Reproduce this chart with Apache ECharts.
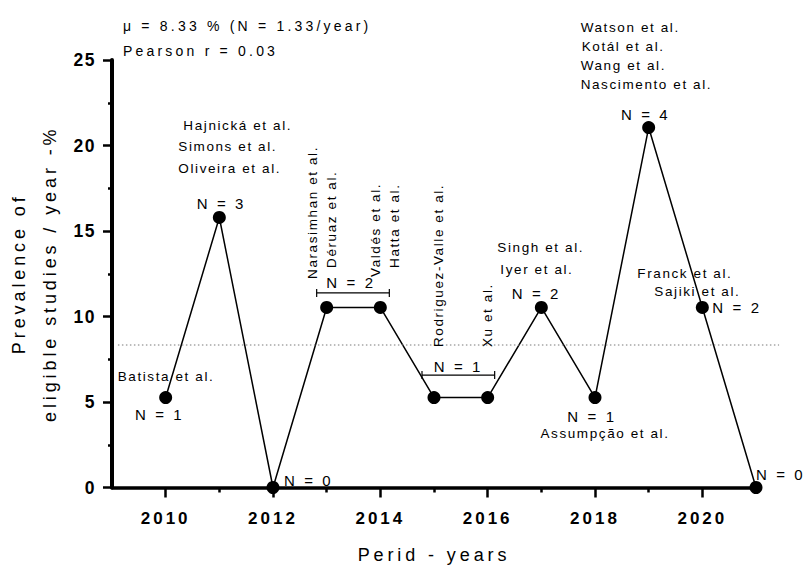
<!DOCTYPE html>
<html>
<head>
<meta charset="utf-8">
<script src="https://cdn.jsdelivr.net/npm/echarts@6/dist/echarts.min.js"></script>
<style>
  html, body { margin: 0; padding: 0; background: #fff; }
  #chart { width: 806px; height: 565px; }
  /* wide, Prism-like tracking per text role (roles are told apart by font size) */
  #chart text[style*="13.5px"] { letter-spacing: 1.6px; }
  #chart text[style*="15px"]   { letter-spacing: 2.6px; }
  #chart text[style*="14px"]   { letter-spacing: 3.2px; }
  #chart text[style*="17px"]   { letter-spacing: 3px; }
  #chart text[style*="17.5px"] { letter-spacing: 1.5px; }
  #chart text[style*="18px"]   { letter-spacing: 3.9px; }
</style>
</head>
<body>
<div id="chart"></div>
<script>
// ---- data ----
const years = [2010, 2011, 2012, 2013, 2014, 2015, 2016, 2017, 2018, 2019, 2020, 2021];
const prevalence = [5.26, 15.79, 0, 10.53, 10.53, 5.26, 5.26, 10.53, 5.26, 21.05, 10.53, 0];
const studyCounts = [1, 3, 0, 2, 2, 1, 1, 2, 1, 4, 2, 0];
const studyAuthors = [
  ['Batista et al.'],
  ['Hajnická et al.', 'Simons et al.', 'Oliveira et al.'],
  [],
  ['Narasimhan et al.', 'Déruaz et al.'],
  ['Valdés et al.', 'Hatta et al.'],
  ['Rodriguez-Valle et al.'],
  ['Xu et al.'],
  ['Singh et al.', 'Iyer et al.'],
  ['Assumpção et al.'],
  ['Watson et al.', 'Kotál et al.', 'Wang et al.', 'Nascimento et al.'],
  ['Franck et al.', 'Sajiki et al.'],
  []
];
// years whose count is shown once for a pair of points, under a bracket
const pairedYears = [[2013, 2014], [2015, 2016]];
const xMajorTicks = [2010, 2012, 2014, 2016, 2018, 2020];
const xMinorTicks = [2011, 2013, 2015, 2017, 2019];
const yTicks = [0, 5, 10, 15, 20, 25];
const summaryLines = ['μ = 8.33 % (N = 1.33/year)', 'Pearson r = 0.03'];
const xTitle = 'Perid - years';
const yTitle = 'Prevalence of\neligible studies / year -%';

// ---- layout of the annotations (pixel offsets from each marker) ----
const authorLayout = [
  [[-48, -21.5]],
  [[-36, -91.5], [-41, -70.5], [-41, -48.5]],
  [],
  [[-14.5, -28.5, 'v'], [5, -39.5, 'v']],
  [[-5, -30.5, 'v'], [14, -39.5, 'v']],
  [[4, -50.5, 'v']],
  [[0, -50.5, 'v']],
  [[-44, -59.5], [-41, -37.5]],
  [[10, 35.5, 'c']],
  [[-68, -100.5], [-67, -81.5], [-68, -62.5], [-68, -43.5]],
  [[-65, -33.5], [-48, -15.5]],
  []
];
const countLayout = [
  [-6, 16.5, 'center'], [2, -14, 'center'], [11, -7.5, 'left'], null, null, null, null,
  [-5, -13.5, 'center'], [-3, 18.5, 'center'], [-3, -13.5, 'center'], [10, 0, 'left'], [0, -13.5, 'left']
];
// pair brackets: text dy, bracket dy, left overhang, right overhang
const pairLayout = [[-24.5, -14.5, 10, 9], [-31.5, -22.5, 12, 7]];

const FONT = '"Liberation Sans", Arial, Helvetica, sans-serif';
const meanValue = prevalence.reduce((a, b) => a + b, 0) / prevalence.length;

const chart = echarts.init(document.getElementById('chart'), null, { renderer: 'svg' });

chart.setOption({
  animation: false,
  backgroundColor: '#fff',
  grid: { left: 112, right: 50, top: 60, bottom: 77.5, outerBoundsMode: 'none', containLabel: false },
  xAxis: [
    {
      type: 'value', min: 2009, max: 2021, interval: 1, position: 'bottom',
      axisLine: { lineStyle: { color: '#000', width: 3.5 } },
      axisTick: { customValues: xMajorTicks, length: 10, lineStyle: { color: '#000', width: 2.5 } },
      axisLabel: {
        customValues: xMajorTicks, margin: 22, color: '#000',
        fontSize: 17, fontWeight: 'bold', fontFamily: FONT,
        formatter: v => String(v)
      },
      splitLine: { show: false },
      name: xTitle, nameLocation: 'middle', nameGap: 58,
      nameTextStyle: { fontSize: 18, color: '#000', fontFamily: FONT }
    },
    {
      type: 'value', min: 2009, max: 2021, interval: 1, position: 'bottom',
      axisLine: { show: false },
      axisTick: { customValues: xMinorTicks, length: 5, lineStyle: { color: '#000', width: 2.5 } },
      axisLabel: { show: false },
      splitLine: { show: false }
    }
  ],
  yAxis: {
    type: 'value', min: 0, max: 25, interval: 5,
    axisLine: { show: true, lineStyle: { color: '#000', width: 4 } },
    axisTick: { show: true, length: 9, lineStyle: { color: '#000', width: 2.5 } },
    minorTick: { show: true, splitNumber: 2, length: 4, lineStyle: { color: '#000', width: 2.5 } },
    axisLabel: {
      margin: 16, color: '#000', fontSize: 17.5, fontWeight: 'bold', fontFamily: FONT,
      formatter: v => (yTicks.indexOf(v) >= 0 ? String(v) : '')
    },
    splitLine: { show: false },
    name: yTitle, nameLocation: 'middle', nameGap: 46,
    nameTextStyle: { fontSize: 18, lineHeight: 31, color: '#000', fontFamily: FONT, align: 'center' }
  },
  series: [{
    type: 'line',
    data: years.map((y, i) => [y, prevalence[i]]),
    symbol: 'circle', symbolSize: 13,
    itemStyle: { color: '#000' },
    lineStyle: { color: '#000', width: 1.5 },
    clip: false, z: 3
  }]
});

// ---- annotations placed from the data scale ----
const toPx = (x, y) => chart.convertToPixel({ seriesIndex: 0 }, [x, y]);
const elements = [];

function addText(x, y, text, size, align, vertical) {
  elements.push({
    type: 'text', x: x, y: y, rotation: vertical ? Math.PI / 2 : 0, silent: true, z: 10,
    style: {
      text: text, fill: '#000', fontSize: size, fontFamily: FONT,
      align: vertical ? 'left' : align, verticalAlign: 'middle'
    }
  });
}
function addLine(x1, y1, x2, y2, style) {
  elements.push({ type: 'line', silent: true, z: 5, shape: { x1, y1, x2, y2 }, style: style });
}

// mean line across the plot
const meanStart = toPx(2009.11, meanValue);
const meanEnd = toPx(2021.43, meanValue);
addLine(meanStart[0], meanStart[1], meanEnd[0], meanEnd[1],
  { stroke: '#7a7a7a', lineWidth: 1.2, lineDash: [1.5, 2.5] });

// summary statistics
summaryLines.forEach((s, i) => addText(123, 26 + i * 25, s, 14, 'left', false));

years.forEach((yr, i) => {
  const p = toPx(yr, prevalence[i]);
  studyAuthors[i].forEach((name, k) => {
    const l = authorLayout[i][k];
    const vertical = l[2] === 'v';
    const align = l[2] === 'c' ? 'center' : 'left';
    addText(p[0] + l[0], p[1] + l[1], name, 13.5, align, vertical);
  });
  const c = countLayout[i];
  if (c) addText(p[0] + c[0], p[1] + c[1], 'N = ' + studyCounts[i], 15, c[2], false);
});

pairedYears.forEach((pair, j) => {
  const i0 = years.indexOf(pair[0]);
  const i1 = years.indexOf(pair[1]);
  const a = toPx(pair[0], prevalence[i0]);
  const b = toPx(pair[1], prevalence[i1]);
  const lay = pairLayout[j];
  const mid = (a[0] + b[0]) / 2;
  addText(mid - 2.5, a[1] + lay[0], 'N = ' + studyCounts[i0], 15, 'center', false);
  const by = a[1] + lay[1];
  const bx1 = a[0] - lay[2];
  const bx2 = b[0] + lay[3];
  const st = { stroke: '#000', lineWidth: 1.2 };
  addLine(bx1, by, bx2, by, st);
  addLine(bx1, by - 4, bx1, by + 4, st);
  addLine(bx2, by - 4, bx2, by + 4, st);
});

chart.setOption({ graphic: { elements: elements } });
</script>
</body>
</html>
